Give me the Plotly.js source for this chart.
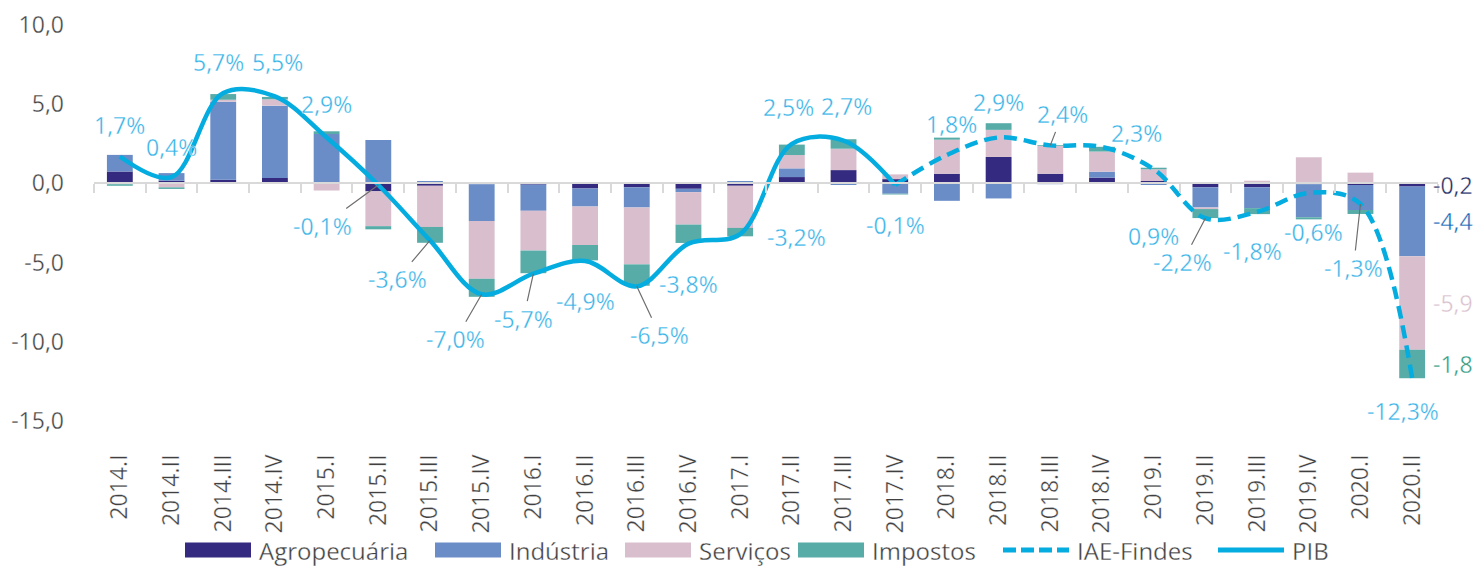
<!DOCTYPE html>
<html>
<head>
<meta charset="utf-8">
<script src="https://cdn.plot.ly/plotly-3.0.1.min.js"></script>
<style>
html,body{margin:0;padding:0;background:#fff;}
#chart{width:1480px;height:566px;}
#chart svg text{stroke:#ffffff;stroke-width:0.3px;}
</style>
</head>
<body>
<div id="chart"></div>
<script>
// ---- data ----
const quarters = ['2014.I','2014.II','2014.III','2014.IV','2015.I','2015.II','2015.III','2015.IV',
  '2016.I','2016.II','2016.III','2016.IV','2017.I','2017.II','2017.III','2017.IV',
  '2018.I','2018.II','2018.III','2018.IV','2019.I','2019.II','2019.III','2019.IV','2020.I','2020.II'];
const agropecuaria = [0.75,0.17,0.23,0.34,0.02,-0.50,-0.15,-0.05,-0.08,-0.32,-0.25,-0.34,-0.15,0.40,0.84,0.27,0.61,1.67,0.61,0.36,0.15,-0.25,-0.25,-0.05,-0.10,-0.2];
const industria    = [1.05,0.48,4.93,4.57,3.10,2.74,0.15,-2.32,-1.65,-1.14,-1.27,-0.21,0.15,0.55,-0.10,-0.65,-1.10,-0.95,-0.05,0.38,-0.10,-1.27,-1.31,-2.09,-1.58,-4.4];
const servicos     = [-0.05,-0.25,0.12,0.40,-0.45,-2.20,-2.60,-3.65,-2.51,-2.43,-3.59,-2.05,-2.66,0.84,1.35,0.30,2.15,1.71,1.75,1.27,0.74,-0.10,0.17,1.65,0.68,-5.9];
const impostos     = [-0.10,-0.10,0.36,0.15,0.17,-0.20,-1.00,-1.14,-1.43,-0.97,-1.35,-1.16,-0.53,0.66,0.60,-0.05,0.13,0.42,0.05,0.30,0.10,-0.57,-0.38,-0.13,-0.25,-1.8];
const pib          = [1.7,0.4,5.7,5.5,2.9,-0.1,-3.6,-7.0,-5.7,-4.9,-6.5,-3.8,-3.2,2.5,2.7,-0.1,null,null,null,null,null,null,null,null,null,null];
const iaeFindes    = [null,null,null,null,null,null,null,null,null,null,null,null,null,null,null,-0.1,1.8,2.9,2.4,2.3,0.9,-2.2,-1.8,-0.6,-1.3,-12.3];
const yTickVals = [10,5,0,-5,-10,-15];
const yTickText = ['10,0','5,0','0,0','-5,0','-10,0','-15,0'];
const seriesNames = ['Agropecuária','Indústria','Serviços','Impostos','IAE-Findes','PIB'];

// ---- styles (label offsets in px: [dx, dy, leader]) ----
const labelOffsets = [[0,-31,0],[0,-30,0],[-5,-31,0],[3,-34,0],[0,-33,0],[-56,41,1],[-33,39,1],[-26,45,1],
  [-10,45,1],[0,40,0],[23,49,1],[0,40,0],[56,3,0],[-3,-37,0],[3,-35,0],[0,40,0],
  [5,-31,0],[0,-35,0],[12,-31,1],[34,-14,0],[0,67,0],[-23,44,1],[-5,39,0],[5,39,0],[-7,64,1],[-9,33,0]];
const colors = {agro:'#342b80', ind:'#6a8dc8', serv:'#d9bfcd', imp:'#58aca8', line:'#04acdf', label:'#35b2e7'};
const endLabelColors = ['#1c2860','#1767b6','#d9bfcd','#2e9a80'];
const FONT = 'Open Sans, Noto Sans, sans-serif';
const FS = 23;
const LFS = 24;
const TXT = '#404040';
// legend layout (pixel positions of swatch left edges, swatch width)
const legendSwatchX = [185, 435, 625, 798, 1003, 1218];
const legendSwatchW = 66, legendY = 550;
const plotL = 94, plotR = 1438, plotT = 25, plotB = 421;

const fmt = v => (v.toFixed(1)).replace('.', ',');
const pxX = p => (p - plotL) / (plotR - plotL);
const pxY = p => (plotB - p) / (plotB - plotT);

const barSeries = [agropecuaria, industria, servicos, impostos];
const barColors = [colors.agro, colors.ind, colors.serv, colors.imp];

const traces = barSeries.map((s,i) => ({
  type:'bar', name: seriesNames[i], x: quarters, y: s, xaxis:'x', yaxis:'y',
  marker:{color: barColors[i], line:{width:0}}, showlegend:false
}));
traces.push({type:'scatter', mode:'lines', name:seriesNames[4], x: quarters, y: iaeFindes, showlegend:false,
  line:{color: colors.line, width:4.5, dash:'13px,7px', shape:'spline', smoothing:1}, connectgaps:false});
traces.push({type:'scatter', mode:'lines', name:seriesNames[5], x: quarters, y: pib, showlegend:false,
  line:{color: colors.line, width:4.5, shape:'spline', smoothing:1}, connectgaps:false});
// invisible helper trace for the zero-line axis
traces.push({type:'scatter', mode:'markers', x: quarters, y: pib.map(()=>0), xaxis:'x2', yaxis:'y',
  marker:{opacity:0}, showlegend:false, hoverinfo:'skip'});

const annotations = [];
quarters.forEach((q,i) => {
  const v = pib[i] !== null ? pib[i] : iaeFindes[i];
  const o = labelOffsets[i];
  annotations.push({x:q, y:v, xref:'x', yref:'y', text: fmt(v)+'%', showarrow:true,
    ax:o[0], ay:o[1], axref:'pixel', ayref:'pixel', arrowhead:0, arrowwidth:1.2,
    arrowcolor: o[2] ? '#6e6e6e' : 'rgba(0,0,0,0)', standoff:0,
    font:{family:FONT, size:FS, color:colors.label}});
});
// end-of-series labels for the last quarter
const last = quarters.length - 1;
let cumNeg = 0;
barSeries.forEach((s,i) => {
  const v = s[last];
  const mid = cumNeg + v/2;
  cumNeg += v;
  annotations.push({x:quarters[last], y:mid, xref:'x', yref:'y', text: fmt(v), showarrow:false,
    xshift:41, font:{family:FONT, size:FS, color:endLabelColors[i]}});
});

// custom legend
const shapes = [];
seriesNames.forEach((n,i) => {
  const x0 = legendSwatchX[i], x1 = x0 + legendSwatchW;
  if (i < 4) {
    shapes.push({type:'rect', xref:'paper', yref:'paper', x0:pxX(x0), x1:pxX(x1),
      y0:pxY(legendY-7.5), y1:pxY(legendY+7.5), fillcolor:barColors[i], line:{width:0}});
  } else {
    shapes.push({type:'line', xref:'paper', yref:'paper', x0:pxX(x0), x1:pxX(x1),
      y0:pxY(legendY), y1:pxY(legendY),
      line:{color:colors.line, width:5, dash: i === 4 ? '13px,5px' : 'solid'}});
  }
  annotations.push({xref:'paper', yref:'paper', x:pxX(x1+6), y:pxY(legendY), xanchor:'left', yanchor:'middle',
    text:n, showarrow:false, font:{family:FONT, size:LFS, color:TXT}});
});

const layout = {
  width:1480, height:566,
  margin:{l:plotL, r:1480-plotR, t:plotT, b:566-plotB},
  paper_bgcolor:'#fff', plot_bgcolor:'#fff',
  barmode:'relative', bargap:0.5,
  separators:',.',
  font:{family:FONT, color:TXT, size:FS},
  showlegend:false,
  xaxis:{type:'category', categoryorder:'array', categoryarray:quarters, range:[-0.5,25.5],
    anchor:'y', showline:false, ticks:'', tickangle:-90, showgrid:false, zeroline:false,
    tickfont:{family:FONT, size:FS, color:TXT}, ticklabelstandoff:28, fixedrange:true},
  xaxis2:{type:'category', categoryorder:'array', categoryarray:quarters, matches:'x', overlaying:'x',
    anchor:'free', position:0.6, side:'bottom', showline:true, linecolor:'#d9d9d9', linewidth:2,
    ticks:'outside', tickson:'boundaries', ticklen:9, tickwidth:2, tickcolor:'#d9d9d9',
    showticklabels:false, showgrid:false, zeroline:false, layer:'above traces'},
  yaxis:{range:[-15,10], tickvals:yTickVals, ticktext:yTickText, showgrid:false, zeroline:false,
    showline:false, ticks:'', ticklabelstandoff:29, tickfont:{family:FONT, size:FS, color:TXT}, fixedrange:true},
  annotations: annotations,
  shapes: shapes
};

Plotly.newPlot('chart', traces, layout, {displayModeBar:false, staticPlot:true});
</script>
</body>
</html>
